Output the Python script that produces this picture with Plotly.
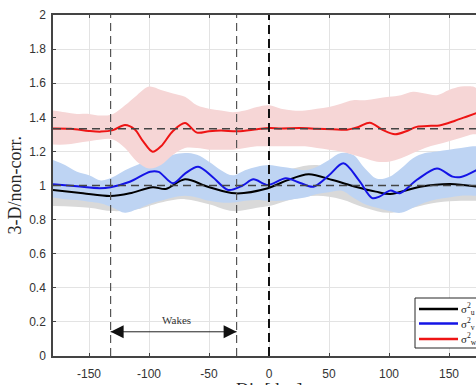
import plotly.graph_objects as go

# ---------------- data ----------------
x_u = [-180, -155, -132, -116, -97, -86, -70, -51, -28, -1, 15, 33, 53, 72, 89, 101, 126, 151, 173]
y_u = [0.974, 0.954, 0.938, 0.954, 0.99, 0.98, 1.036, 0.993, 0.954, 0.984, 1.03, 1.066, 1.032, 0.993, 0.964, 0.95, 0.993, 1.009, 0.993]

x_v = [-180, -160, -141, -132, -116, -99, -92, -80, -70, -59, -47, -34, -22, -13, -1, 14, 26, 37, 50, 62, 75, 86, 92, 101, 109, 123, 140, 153, 160, 173]
y_v = [1.007, 0.995, 0.984, 0.99, 1.022, 1.081, 1.08, 1.013, 1.07, 1.11, 1.05, 0.974, 1.0, 1.036, 1.003, 1.042, 1.015, 0.993, 1.06, 1.13, 1.03, 0.926, 0.935, 0.97, 0.955, 1.032, 1.1, 1.052, 1.05, 1.09]

x_w = [-180, -165, -150, -140, -130, -120, -112, -105, -97, -90, -80, -70, -60, -50, -40, -26, -10, 0, 10, 26, 40, 53, 65, 75, 84, 95, 105, 115, 123, 135, 142, 155, 165, 173]
y_w = [1.335, 1.333, 1.32, 1.316, 1.325, 1.355, 1.33, 1.26, 1.198, 1.23, 1.32, 1.366, 1.31, 1.318, 1.322, 1.318, 1.33, 1.337, 1.335, 1.337, 1.333, 1.33, 1.327, 1.345, 1.368, 1.325, 1.30, 1.32, 1.344, 1.35, 1.352, 1.38, 1.405, 1.425]

# scatter-cloud envelopes
x_band = [-180, -170, -160, -150, -140, -130, -120, -110, -100, -90, -80, -70, -60, -50, -40, -30, -20, -10, 0,
          10, 20, 30, 40, 50, 60, 70, 80, 90, 100, 110, 120, 130, 140, 150, 160, 170, 173]
w_hi = [1.44, 1.43, 1.42, 1.42, 1.41, 1.42, 1.47, 1.53, 1.58, 1.56, 1.54, 1.52, 1.47, 1.45, 1.44, 1.43, 1.44, 1.46, 1.47,
        1.45, 1.44, 1.44, 1.45, 1.46, 1.48, 1.50, 1.50, 1.51, 1.52, 1.53, 1.55, 1.54, 1.53, 1.56, 1.58, 1.58, 1.57]
w_lo = [1.24, 1.24, 1.25, 1.26, 1.27, 1.27, 1.22, 1.14, 1.10, 1.12, 1.18, 1.22, 1.22, 1.21, 1.21, 1.21, 1.22, 1.23, 1.23,
        1.23, 1.23, 1.23, 1.22, 1.21, 1.20, 1.18, 1.16, 1.14, 1.14, 1.16, 1.19, 1.22, 1.24, 1.26, 1.28, 1.30, 1.30]
v_hi = [1.15, 1.12, 1.08, 1.06, 1.03, 1.05, 1.09, 1.12, 1.15, 1.16, 1.18, 1.19, 1.18, 1.14, 1.09, 1.06, 1.09, 1.11, 1.12,
        1.11, 1.10, 1.09, 1.11, 1.15, 1.19, 1.18, 1.10, 1.04, 1.05, 1.10, 1.16, 1.19, 1.20, 1.21, 1.22, 1.23, 1.23]
v_lo = [0.93, 0.92, 0.915, 0.905, 0.895, 0.87, 0.84, 0.86, 0.89, 0.91, 0.93, 0.94, 0.93, 0.91, 0.90, 0.90, 0.91, 0.915, 0.91,
        0.91, 0.92, 0.93, 0.95, 0.96, 0.97, 0.93, 0.89, 0.87, 0.85, 0.84, 0.87, 0.90, 0.92, 0.93, 0.94, 0.94, 0.94]
x_gray = [-180, -150, -130, -110, -100, -90, -70, -50, -30, -10, 0, 20, 40, 60, 80, 100, 120, 140, 160, 173]
u_hi = [1.04, 1.02, 1.0, 1.02, 1.04, 1.05, 1.08, 1.05, 1.02, 1.04, 1.05, 1.10, 1.12, 1.08, 1.03, 1.01, 1.04, 1.06, 1.06, 1.05]
u_lo = [0.88, 0.87, 0.85, 0.86, 0.88, 0.9, 0.92, 0.89, 0.85, 0.87, 0.88, 0.92, 0.94, 0.92, 0.87, 0.84, 0.87, 0.9, 0.91, 0.91]

ref_levels = [1.0, 4 / 3]
wake_bounds = [-132, -27]
wake_arrow_y = 0.142
x_ticks = [-150, -100, -50, 0, 50, 100, 150]
x_ticktext = ["-150", "-100", "-50", "0", "50", "100", "150"]
y_ticks = [0, 0.2, 0.4, 0.6, 0.8, 1, 1.2, 1.4, 1.6, 1.8, 2]
y_ticktext = ["0", "0.2", "0.4", "0.6", "0.8", "1", "1.2", "1.4", "1.6", "1.8", "2"]
legend_labels = ["σ<sup>2</sup><sub>u</sub>", "σ<sup>2</sup><sub>v</sub>", "σ<sup>2</sup><sub>w</sub>"]

# ---------------- figure ----------------
fig = go.Figure()


def band(x, lo, hi, color):
    fig.add_trace(go.Scatter(x=x, y=lo, mode="lines", line=dict(width=0, shape="spline"),
                             showlegend=False, hoverinfo="skip"))
    fig.add_trace(go.Scatter(x=x, y=hi, mode="lines", line=dict(width=0, shape="spline"),
                             fill="tonexty", fillcolor=color, showlegend=False, hoverinfo="skip"))


band(x_gray, u_lo, u_hi, "#d9d9d9")
band(x_band, v_lo, v_hi, "#bed4f3")
band(x_band, w_lo, w_hi, "#f6d6d6")

line_colors = ["#000000", "#1414e6", "#ee1414"]
for (xs, ys), c in zip([(x_u, y_u), (x_v, y_v), (x_w, y_w)], line_colors):
    fig.add_trace(go.Scatter(x=xs, y=ys, mode="lines",
                             line=dict(color=c, width=2, shape="spline", smoothing=0.9),
                             showlegend=False, hoverinfo="skip"))

for lv in ref_levels:
    fig.add_hline(y=lv, line=dict(color="#444444", width=1.5, dash="8px,5px"), layer="above")
for wb in wake_bounds:
    fig.add_vline(x=wb, line=dict(color="#555555", width=1.2, dash="8px,5px"), layer="above")
fig.add_vline(x=0, line=dict(color="#111111", width=2, dash="9px,5px"), layer="above")

# wakes double arrow (line + arrow markers at both ends)
fig.add_trace(go.Scatter(x=wake_bounds, y=[wake_arrow_y, wake_arrow_y], mode="lines+markers",
                         line=dict(color="#222222", width=1),
                         marker=dict(symbol=["arrow-left", "arrow-right"], size=13, color="#111111",
                                     line=dict(width=0)),
                         showlegend=False, hoverinfo="skip"))
mid = (wake_bounds[0] + wake_bounds[1]) / 2
fig.add_annotation(x=mid + 2, y=0.212, xref="x", yref="y", text="Wakes", showarrow=False,
                   font=dict(family="Liberation Serif", size=11, color="#333333"))

# axis titles
fig.add_annotation(x=-0.09, y=0.5, xref="paper", yref="paper", xanchor="center", yanchor="middle",
                   text="3-D/non-corr.", textangle=-90,
                   showarrow=False, font=dict(family="Liberation Serif", size=18, color="#262626"))
fig.add_annotation(x=0, y=0, xref="x", yref="paper", yanchor="top", yshift=-22, text="Dir [deg]",
                   showarrow=False, font=dict(family="Liberation Serif", size=18, color="#262626"))

# manual legend
W, H, L, B = 423.0, 341.0, 53.0, 356.0


def px(xp):
    return (xp - L) / W


def py(yp):
    return (B - yp) / H


fig.add_shape(type="rect", xref="paper", yref="paper", x0=px(415), x1=px(500), y0=py(348), y1=py(298),
              line=dict(color="#262626", width=1), fillcolor="white", layer="above")
for c, yy, lab in zip(line_colors, [309, 323.5, 339], legend_labels):
    fig.add_shape(type="line", xref="paper", yref="paper", x0=px(419), x1=px(458), y0=py(yy), y1=py(yy),
                  line=dict(color=c, width=2.5), layer="above")
    fig.add_annotation(x=px(460), y=py(yy), xref="paper", yref="paper", xanchor="left", yanchor="middle",
                       text=lab, showarrow=False, borderpad=0,
                       font=dict(family="Liberation Serif", size=11, color="#222"))

fig.update_layout(
    width=476, height=385,
    margin=dict(l=53, r=0, t=15, b=29),
    paper_bgcolor="white", plot_bgcolor="white",
    font=dict(family="Liberation Sans, Arial", size=12, color="#333333"),
    showlegend=False,
    xaxis=dict(range=[-180, 172.5], tickvals=x_ticks, ticktext=x_ticktext, showgrid=True,
               gridcolor="#e3e3e3", gridwidth=1, zeroline=False, showline=True, linecolor="#444444",
               linewidth=1.5, mirror="ticks", ticks="inside", ticklen=3, tickcolor="#444444",
               ticklabelstandoff=6, automargin=False),
    yaxis=dict(range=[0, 2], tickvals=y_ticks, ticktext=y_ticktext, showgrid=True,
               gridcolor="#e3e3e3", gridwidth=1, zeroline=False, showline=True, linecolor="#444444",
               linewidth=1.5, mirror=False, ticks="inside", ticklen=3, tickcolor="#444444",
               ticklabelstandoff=3, automargin=False),
)

fig.write_html("out.html")
